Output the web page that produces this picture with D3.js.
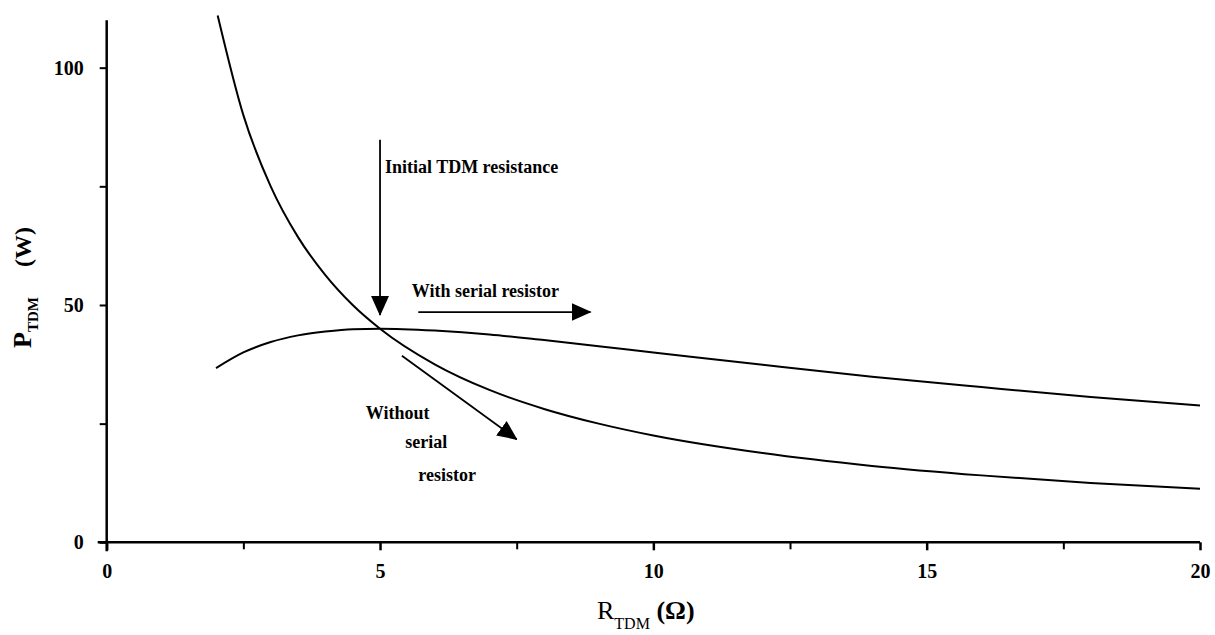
<!DOCTYPE html>
<html><head><meta charset="utf-8">
<script src="https://cdn.jsdelivr.net/npm/d3@7"></script>
<style>
html,body{margin:0;padding:0;background:#fff;}
svg{display:block;}
text{font-family:"Liberation Serif","Times New Roman",serif;fill:#000;}
</style></head>
<body><svg id="c" width="1215" height="635"></svg>
<script>
// Data
const rWithout = [2.03, 2.5, 3, 3.5, 4, 4.5, 5, 6, 7, 8, 9, 10, 12, 14, 16, 18, 20];
const pWithout = [111, 90, 75, 64.3, 56.3, 50, 45, 37.5, 32.1, 28.1, 25, 22.5, 18.8, 16.1, 14.1, 12.5, 11.3];
const rWith = [2, 2.5, 3, 3.5, 4, 4.5, 5, 6, 7, 8, 9, 10, 12, 14, 16, 18, 20];
const pWith = [36.7, 40, 42.2, 43.6, 44.4, 44.9, 45, 44.6, 43.8, 42.6, 41.3, 40, 37.4, 34.9, 32.7, 30.6, 28.8];
const xTicks = [0, 5, 10, 15, 20];
const xMinorTicks = [2.5, 7.5, 12.5, 17.5];
const yTicks = [0, 50, 100];
const yMinorTicks = [25, 75];
const annotationTexts = ["Initial TDM resistance", "With serial resistor", "Without", "serial", "resistor"];
const annotationX = [5.09, 5.58, 4.74, 5.46, 5.70];
const annotationY = [77.8, 51.7, 25.9, 19.8, 13.0];
const arrowFrom = [[5, 84.8], [5.7, 48.5], [5.40, 39.3]];
const arrowTo = [[5, 47.9], [8.85, 48.5], [7.5, 21.7]];

const svg = d3.select("#c");
const x = d3.scaleLinear().domain([0, 20]).range([106.7, 1200]);
const y = d3.scaleLinear().domain([0, 110]).range([542.3, 20.2]);

// axes
const xAxis = d3.axisBottom(x).tickValues(xTicks).tickSize(8).tickSizeOuter(0).tickPadding(14).tickFormat(d3.format("d"));
const gx = svg.append("g").attr("transform", `translate(0,${y(0)})`).call(xAxis);
gx.select(".domain").attr("stroke-width", 2.5).attr("d", `M${x(0)-9},0H${x(20)}`);
gx.selectAll(".tick line").attr("stroke-width", 2.5);
gx.selectAll(".tick text").attr("font-size", 20).attr("font-weight", "bold").attr("font-family", "Liberation Serif");
svg.append("g").attr("transform", `translate(0,${y(0)})`)
  .call(d3.axisBottom(x).tickValues(xMinorTicks).tickSize(7).tickFormat(""))
  .call(g => { g.select(".domain").remove(); g.selectAll(".tick line").attr("stroke-width", 2); });

const yAxis = d3.axisLeft(y).tickValues(yTicks).tickSize(7).tickSizeOuter(0).tickPadding(16).tickFormat(d3.format("d"));
const gy = svg.append("g").attr("transform", `translate(${x(0)},0)`).call(yAxis);
gy.select(".domain").attr("stroke-width", 2.5).attr("d", `M0,${y(0)+9}V${y(110)}`);
gy.selectAll(".tick line").attr("stroke-width", 2);
gy.selectAll(".tick text").attr("font-size", 20).attr("font-weight", "bold").attr("font-family", "Liberation Serif");
svg.append("g").attr("transform", `translate(${x(0)},0)`)
  .call(d3.axisLeft(y).tickValues(yMinorTicks).tickSize(7).tickFormat(""))
  .call(g => { g.select(".domain").remove(); g.selectAll(".tick line").attr("stroke-width", 2); });

// curves
const line = d3.line().x(d => x(d[0])).y(d => y(d[1])).curve(d3.curveMonotoneX);
svg.append("path").datum(d3.zip(rWithout, pWithout)).attr("d", line)
  .attr("fill", "none").attr("stroke", "#000").attr("stroke-width", 2);
svg.append("path").datum(d3.zip(rWith, pWith)).attr("d", line)
  .attr("fill", "none").attr("stroke", "#000").attr("stroke-width", 2);

// arrows
svg.append("defs").append("marker").attr("id", "ah")
  .attr("markerUnits", "userSpaceOnUse").attr("markerWidth", 20).attr("markerHeight", 20)
  .attr("viewBox", "0 -9 19 18").attr("refX", 18).attr("refY", 0).attr("orient", "auto")
  .append("path").attr("d", "M0,-8.5L19,0L0,8.5Z").attr("fill", "#000");
arrowFrom.forEach((f, i) => {
  const t = arrowTo[i];
  svg.append("line").attr("x1", x(f[0])).attr("y1", y(f[1])).attr("x2", x(t[0])).attr("y2", y(t[1]))
    .attr("stroke", "#000").attr("stroke-width", 1.8).attr("marker-end", "url(#ah)");
});

// annotation texts
annotationTexts.forEach((s, i) => {
  svg.append("text").attr("x", x(annotationX[i])).attr("y", y(annotationY[i]))
    .attr("font-size", 18).attr("font-weight", "bold").text(s);
});

// axis titles
const xt = svg.append("text").attr("x", 597).attr("y", 619).attr("font-size", 26);
xt.append("tspan").text("R");
xt.append("tspan").attr("dy", 10).attr("font-size", 16).text("TDM");
xt.append("tspan").attr("dy", -10).attr("font-weight", "bold").text(" (Ω)");

const yt = svg.append("text").attr("transform", "translate(31,348) rotate(-90)").attr("font-size", 26).attr("font-weight", "bold");
yt.append("tspan").text("P");
yt.append("tspan").attr("dy", 7).attr("font-size", 15).text("TDM");
yt.append("tspan").attr("dy", -7).attr("dx", 30).attr("font-size", 24).text("(W)");
</script></body></html>
